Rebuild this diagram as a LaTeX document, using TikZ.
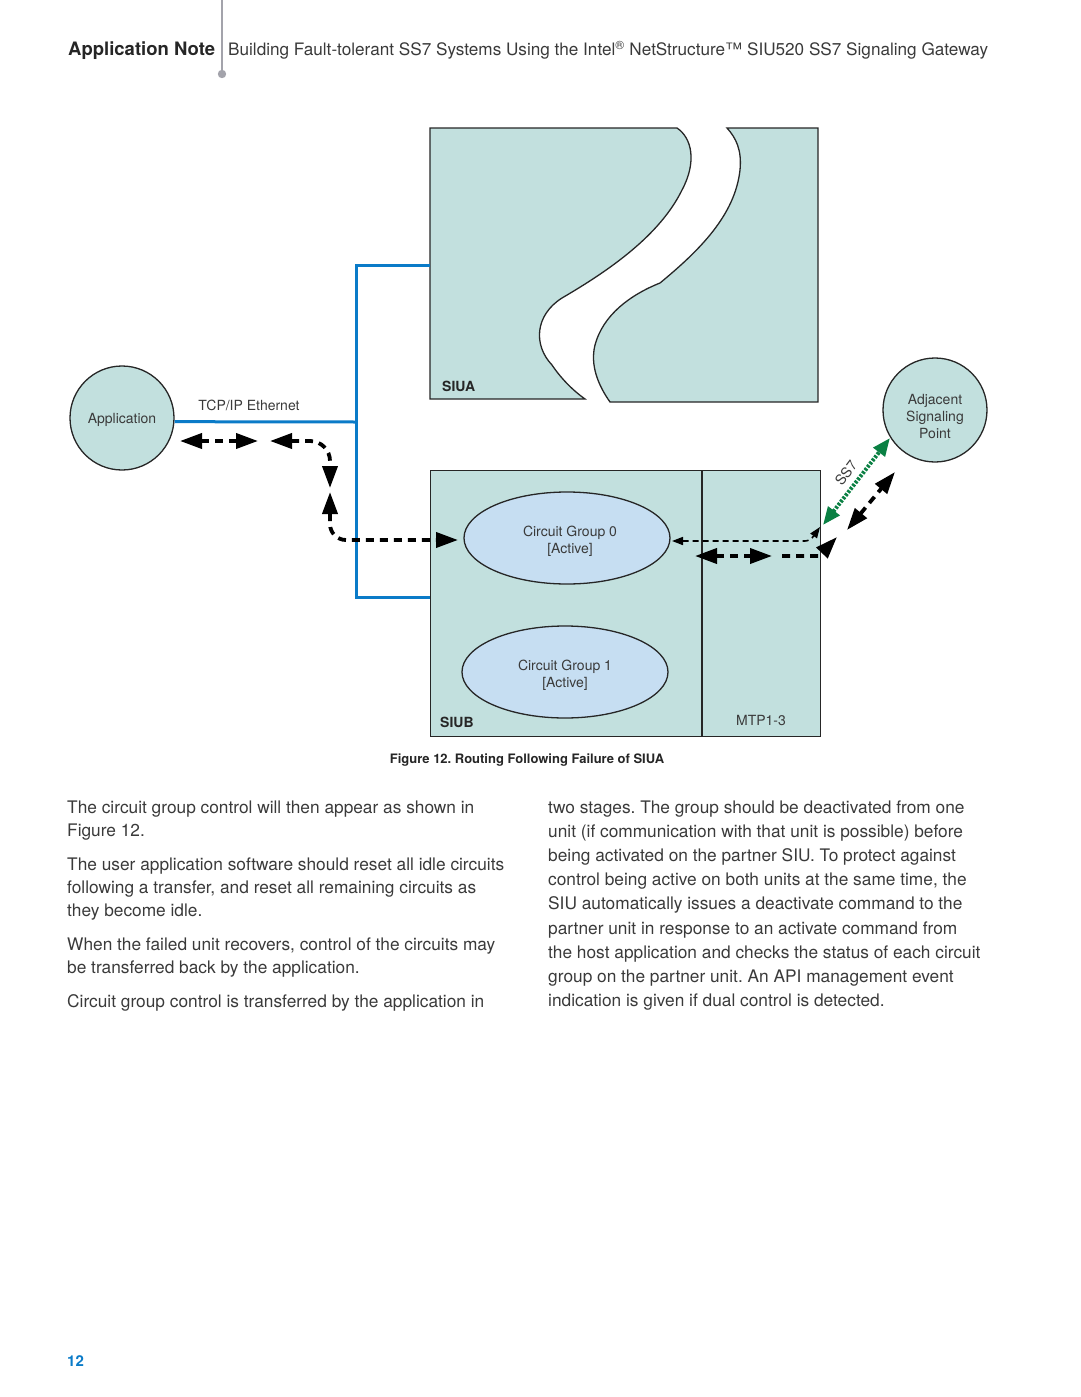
\documentclass[tikz,border=0pt]{standalone}
\usepackage{fontspec}
\setmainfont{TeX Gyre Heros}
\usetikzlibrary{arrows.meta,shapes.geometric}
\definecolor{boxfill}{HTML}{C2E0DE}
\definecolor{ellfill}{HTML}{C6DEF2}
\definecolor{busblue}{HTML}{0A7BC8}
\definecolor{ssgreen}{HTML}{0A8043}
\definecolor{bodygray}{HTML}{3A3A3A}
\definecolor{rulegray}{HTML}{A3A3AB}
\frenchspacing
\begin{document}
\begin{tikzpicture}[x=1pt,y=-1pt,
  outline/.style={draw=black!85, line width=1.3pt},
  unitcircle/.style={circle, outline, fill=boxfill, minimum size=104pt, inner sep=0pt},
  cgroup/.style={ellipse, outline, fill=ellfill, minimum width=206pt, minimum height=92pt, inner sep=0pt},
  inlabel/.style={inner sep=0pt, align=center, text=bodygray, font=\fontsize{14}{17}\selectfont},
  busline/.style={draw=busblue, line width=3pt},
  thickarr/.style={line width=3.8pt, dash pattern=on 8pt off 6pt, >={Triangle[length=22pt,width=15pt]}},
  thinarr/.style={line width=1.6pt, dash pattern=on 6pt off 4pt, >={Triangle[length=11pt,width=8pt]}},
  greenarr/.style={draw=ssgreen, line width=4pt, dash pattern=on 2.5pt off 1.5pt, >={Triangle[length=18pt,width=14pt]}},
  bodytxt/.style={anchor=base west, inner sep=0pt, text=bodygray, font=\fontsize{17.3}{24}\selectfont},
  smalltxt/.style={inner sep=0pt, text=bodygray, font=\fontsize{14}{17}\selectfont},
  labtxt/.style={inner sep=0pt, anchor=base west, text=black!85, font=\fontsize{14}{17}\bfseries\selectfont}
]
\useasboundingbox (0,0) rectangle (1080,1397);

% ---------- header ----------
\draw[rulegray, line width=1.5pt] (222,0) -- (222,74);
\fill[rulegray] (222,74) circle (4.2pt);
\node[anchor=base west, inner sep=0pt, font=\fontsize{18.5}{22}\bfseries\selectfont, text=black!85] (hdrA) at (68,56) {Application Note};
\node[anchor=base west, inner sep=0pt, font=\fontsize{17.15}{22}\selectfont, text=bodygray] (hdrB) at (228,56) {Building Fault-tolerant SS7 Systems Using the Intel\textsuperscript{®} NetStructure™ SIU520 SS7 Signaling Gateway};

% ---------- SIUA (broken unit) ----------
\draw[outline, fill=boxfill] (430,128) -- (677,128)
  .. controls (692,138) and (697,162) .. (682,190)
  .. controls (660,235) and (610,270) .. (562,298)
  .. controls (535,315) and (533,345) .. (552,365)
  .. controls (562,380) and (575,392) .. (585,399)
  -- (430,399) -- cycle;
\draw[outline, fill=boxfill] (727,128) -- (818,128) -- (818,402) -- (610,402)
  .. controls (598,385) and (590,365) .. (595,345)
  .. controls (603,315) and (630,295) .. (660,283)
  .. controls (700,250) and (735,215) .. (740,170)
  .. controls (742,150) and (736,138) .. (727,128) -- cycle;
\node[labtxt] (siualab) at (442,391) {SIUA};
\coordinate (siuaW) at (430,265);

% ---------- SIUB ----------
\node[outline, fill=boxfill, minimum width=390pt, minimum height=266pt, anchor=north west, inner sep=0pt] (siub) at (430,470) {};
\draw[outline] (702,470) -- (702,736);
\node[labtxt] (siublab) at (440,727) {SIUB};
\node[smalltxt] (mtp) at (761,720) {MTP1-3};
\node[cgroup] (cg0) at (567,538) {};
\node[inlabel] (cg0lab) at (570,541) {Circuit Group 0\\{}[Active]};
\node[cgroup] (cg1) at (565,672) {};
\node[inlabel] (cg1lab) at (565,675) {Circuit Group 1\\{}[Active]};

% ---------- end points ----------
\node[unitcircle] (app) at (122,418) {};
\node[inlabel] (applab) at (122,420) {Application};
\node[unitcircle] (asp) at (935,410) {};
\node[inlabel] (asplab) at (935,416) {Adjacent\\Signaling\\Point};

% ---------- LAN bus ----------
\coordinate (busT) at (356,265);
\coordinate (busM) at (356,422);
\coordinate (busB) at (356,597);
\draw[busline] (siuaW) -- (busT) -- (busB) -- (siub.west |- busB);
\draw[busline] (app.-4) -- (busM);
\node[smalltxt] (tcplab) at (249,405) {TCP/IP Ethernet};

% ---------- message arrows ----------
\coordinate (a1s) at (180,441); \coordinate (a1e) at (258,441);
\coordinate (a2s) at (270,441); \coordinate (a2c) at (330,441); \coordinate (a2e) at (330,488);
\coordinate (a3s) at (330,492); \coordinate (a3c) at (330,540); \coordinate (a3e) at (458,540);
\draw[thickarr,<->] (a1s) -- (a1e);
\draw[thickarr,<->,rounded corners=20pt] (a2s) -- (a2c) -- (a2e);
\draw[thickarr,<->,rounded corners=16pt] (a3s) -- (a3c) -- (a3e);

\coordinate (b1s) at (672,541); \coordinate (b1c) at (810,541); \coordinate (b1e) at (820,527);
\draw[thinarr,<->,rounded corners=5pt] (b1s) -- (b1c) -- (b1e);
\coordinate (b2s) at (695,556); \coordinate (b2e) at (772,556);
\draw[thickarr,<->] (b2s) -- (b2e);
\coordinate (b3s) at (782,556); \coordinate (b3c) at (819,556); \coordinate (b3e) at (837,537);
\draw[thickarr,->] (b3s) -- (b3c) -- (b3e);
\coordinate (b4s) at (847,530); \coordinate (b4e) at (895,472);
\draw[thickarr,<->] (b4s) -- (b4e);

\coordinate (gs) at (823,525); \coordinate (ge) at (890,438);
\draw[greenarr,<->] (gs) -- (ge);
\node[smalltxt, rotate=53] (ss7) at (846,473) {SS7};

% ---------- caption ----------
\node[inner sep=0pt, font=\fontsize{13}{15}\bfseries\selectfont, text=black!85] (cap) at (527,760) {Figure 12. Routing Following Failure of SIUA};

% ---------- body text, left column ----------
\node[bodytxt] (l1) at (67,813) {The circuit group control will then appear as shown in};
\node[bodytxt] (l2) at (67,836) {Figure 12.};
\node[bodytxt] (l3) at (67,870) {The user application software should reset all idle circuits};
\node[bodytxt] (l4) at (67,893) {following a transfer, and reset all remaining circuits as};
\node[bodytxt] (l5) at (67,916) {they become idle.};
\node[bodytxt] (l6) at (67,950) {When the failed unit recovers, control of the circuits may};
\node[bodytxt] (l7) at (67,973) {be transferred back by the application.};
\node[bodytxt] (l8) at (67,1007) {Circuit group control is transferred by the application in};

% ---------- body text, right column ----------
\node[bodytxt] (r1) at (548,813) {two stages. The group should be deactivated from one};
\node[bodytxt] (r2) at (548,837) {unit (if communication with that unit is possible) before};
\node[bodytxt] (r3) at (548,861) {being activated on the partner SIU. To protect against};
\node[bodytxt] (r4) at (548,885) {control being active on both units at the same time, the};
\node[bodytxt] (r5) at (548,909) {SIU automatically issues a deactivate command to the};
\node[bodytxt] (r6) at (548,934) {partner unit in response to an activate command from};
\node[bodytxt] (r7) at (548,958) {the host application and checks the status of each circuit};
\node[bodytxt] (r8) at (548,982) {group on the partner unit. An API management event};
\node[bodytxt] (r9) at (548,1006) {indication is given if dual control is detected.};

% ---------- page number ----------
\node[anchor=base west, inner sep=0pt, font=\fontsize{15}{18}\bfseries\selectfont, text=busblue] (pgno) at (67,1366) {12};
\end{tikzpicture}
\end{document}
